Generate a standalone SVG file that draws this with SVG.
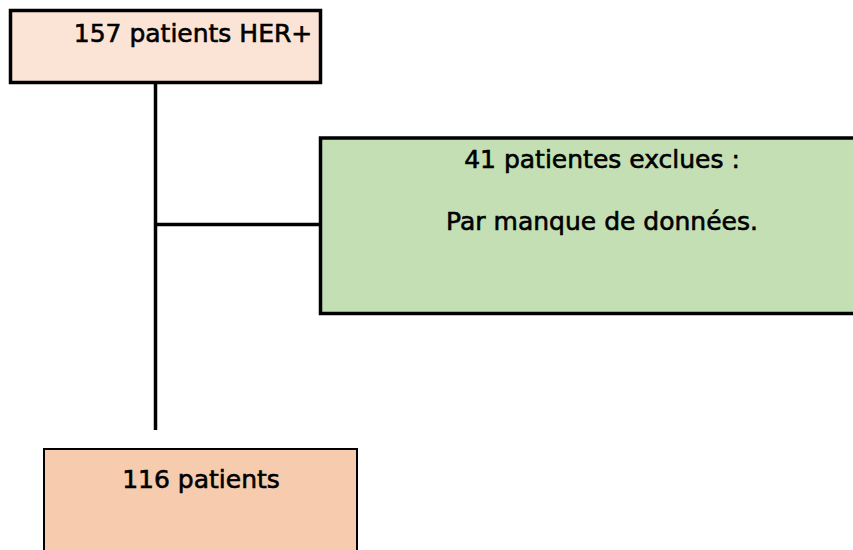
<svg xmlns="http://www.w3.org/2000/svg" width="853" height="550" viewBox="0 0 853 550">
<style>
.box{stroke:#000;stroke-width:3.5}
.t{font-family:"DejaVu Sans","Liberation Sans",sans-serif;font-size:25px;fill:#000;stroke:#000;stroke-width:0.6;text-anchor:middle}
.conn{stroke:#000;stroke-width:3.5;fill:none}
</style>
<rect width="853" height="550" fill="#fff"/>
<g id="connectors">
<line class="conn" x1="155.5" y1="83" x2="155.5" y2="430"/>
<line class="conn" x1="155.5" y1="224.5" x2="320" y2="224.5"/>
</g>
<g id="node-157">
<rect class="box" x="10.5" y="10.5" width="310" height="72" fill="#fbe4d6"/>
<text class="t" x="193" y="42">157 patients HER+</text>
</g>
<g id="node-excl">
<rect class="box" x="320.5" y="138" width="540" height="175.5" fill="#c5dfb4"/>
<text class="t" x="602" y="168">41 patientes exclues :</text>
<text class="t" x="602" y="230">Par manque de données.</text>
</g>
<g id="node-116">
<rect x="44" y="449" width="313" height="120" fill="#f7cbad" stroke="#000" stroke-width="2"/>
<text class="t" x="201" y="488">116 patients</text>
</g>
</svg>
